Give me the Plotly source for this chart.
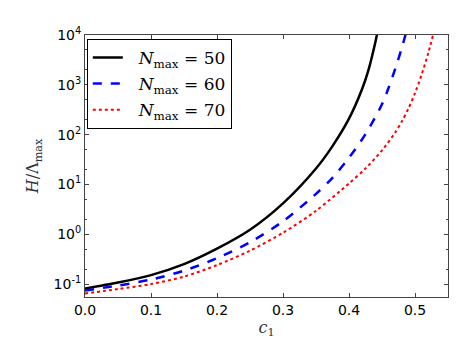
import plotly.graph_objects as go

c_50 = [0.0, 0.05, 0.1, 0.15, 0.2, 0.25, 0.3, 0.35, 0.375, 0.4, 0.42, 0.43, 0.44, 0.4425]
h_50 = [0.0813, 0.107, 0.151, 0.251, 0.513, 1.23, 4.17, 20.9, 58.9, 209, 832, 2089, 7244, 10470]

c_60 = [0.0, 0.05, 0.1, 0.15, 0.2, 0.25, 0.3, 0.35, 0.375, 0.4, 0.425, 0.45, 0.46, 0.47, 0.48, 0.49]
h_60 = [0.0741, 0.0933, 0.123, 0.186, 0.331, 0.692, 1.82, 6.46, 13.6, 34.3, 102, 407, 871, 2089, 5495, 16600]

c_70 = [0.0, 0.05, 0.1, 0.15, 0.2, 0.25, 0.3, 0.35, 0.4, 0.425, 0.45, 0.47, 0.48, 0.49, 0.5, 0.51, 0.52, 0.527]
h_70 = [0.0646, 0.0794, 0.1, 0.141, 0.240, 0.468, 1.07, 2.95, 10.5, 20.9, 48.1, 110, 183, 333, 680, 1594, 4290, 9605]

labels = ["&nbsp;&nbsp;<i>N</i><sub>max</sub> = 50", "&nbsp;&nbsp;<i>N</i><sub>max</sub> = 60", "&nbsp;&nbsp;<i>N</i><sub>max</sub> = 70"]

y_tickvals = [0.1, 1, 10, 100, 1000, 10000]
y_ticktext = ["10<sup>-1</sup>", "10<sup>0</sup>", "10<sup>1</sup>", "10<sup>2</sup>", "10<sup>3</sup>", "10<sup>4</sup>"]

fig = go.Figure()
fig.add_trace(go.Scatter(x=c_50, y=h_50, mode="lines", name=labels[0], legendgroup="a",
                         line=dict(color="black", width=2.5, shape="spline", smoothing=0.8)))
fig.add_trace(go.Scatter(x=c_60, y=h_60, mode="lines", name=labels[1], legendgroup="b",
                         line=dict(color="blue", width=2.5, dash="dash", shape="spline", smoothing=0.8)))
fig.add_trace(go.Scatter(x=c_70, y=h_70, mode="lines", name=labels[2], legendgroup="c",
                         line=dict(color="red", width=2, dash="dot", shape="spline", smoothing=0.8)))

axis_common = dict(showline=True, linecolor="#444", linewidth=1, mirror="allticks",
                   ticks="inside", tickcolor="#444", ticklen=4, showgrid=False, zeroline=False,
                   tickfont=dict(family="DejaVu Sans", size=14, color="black"))

fig.update_xaxes(range=[0, 0.55], dtick=0.1, tickformat=".1f",
                 title=dict(text="<i>c</i><sub>1</sub>", font=dict(family="DejaVu Serif", size=16, color="#333"), standoff=4),
                 **axis_common)
fig.update_yaxes(type="log", range=[-1.26, 4], tickvals=y_tickvals, ticktext=y_ticktext,
                 minor=dict(ticks="inside", ticklen=2, tickcolor="#444"),
                 title=dict(text="<i>H</i>/Λ<sub>max</sub>", font=dict(family="DejaVu Serif", size=16, color="#333"), standoff=10),
                 **axis_common)

fig.update_layout(
    width=457, height=343,
    margin=dict(l=77, r=17, t=27, b=54),
    plot_bgcolor="white", paper_bgcolor="white",
    showlegend=True,
    legend=dict(x=0.005, y=0.985, xanchor="left", yanchor="top",
                bordercolor="black", borderwidth=1, bgcolor="white",
                font=dict(family="DejaVu Serif", size=17, color="black"),
                tracegroupgap=1),
)

fig.write_html("out.html")
